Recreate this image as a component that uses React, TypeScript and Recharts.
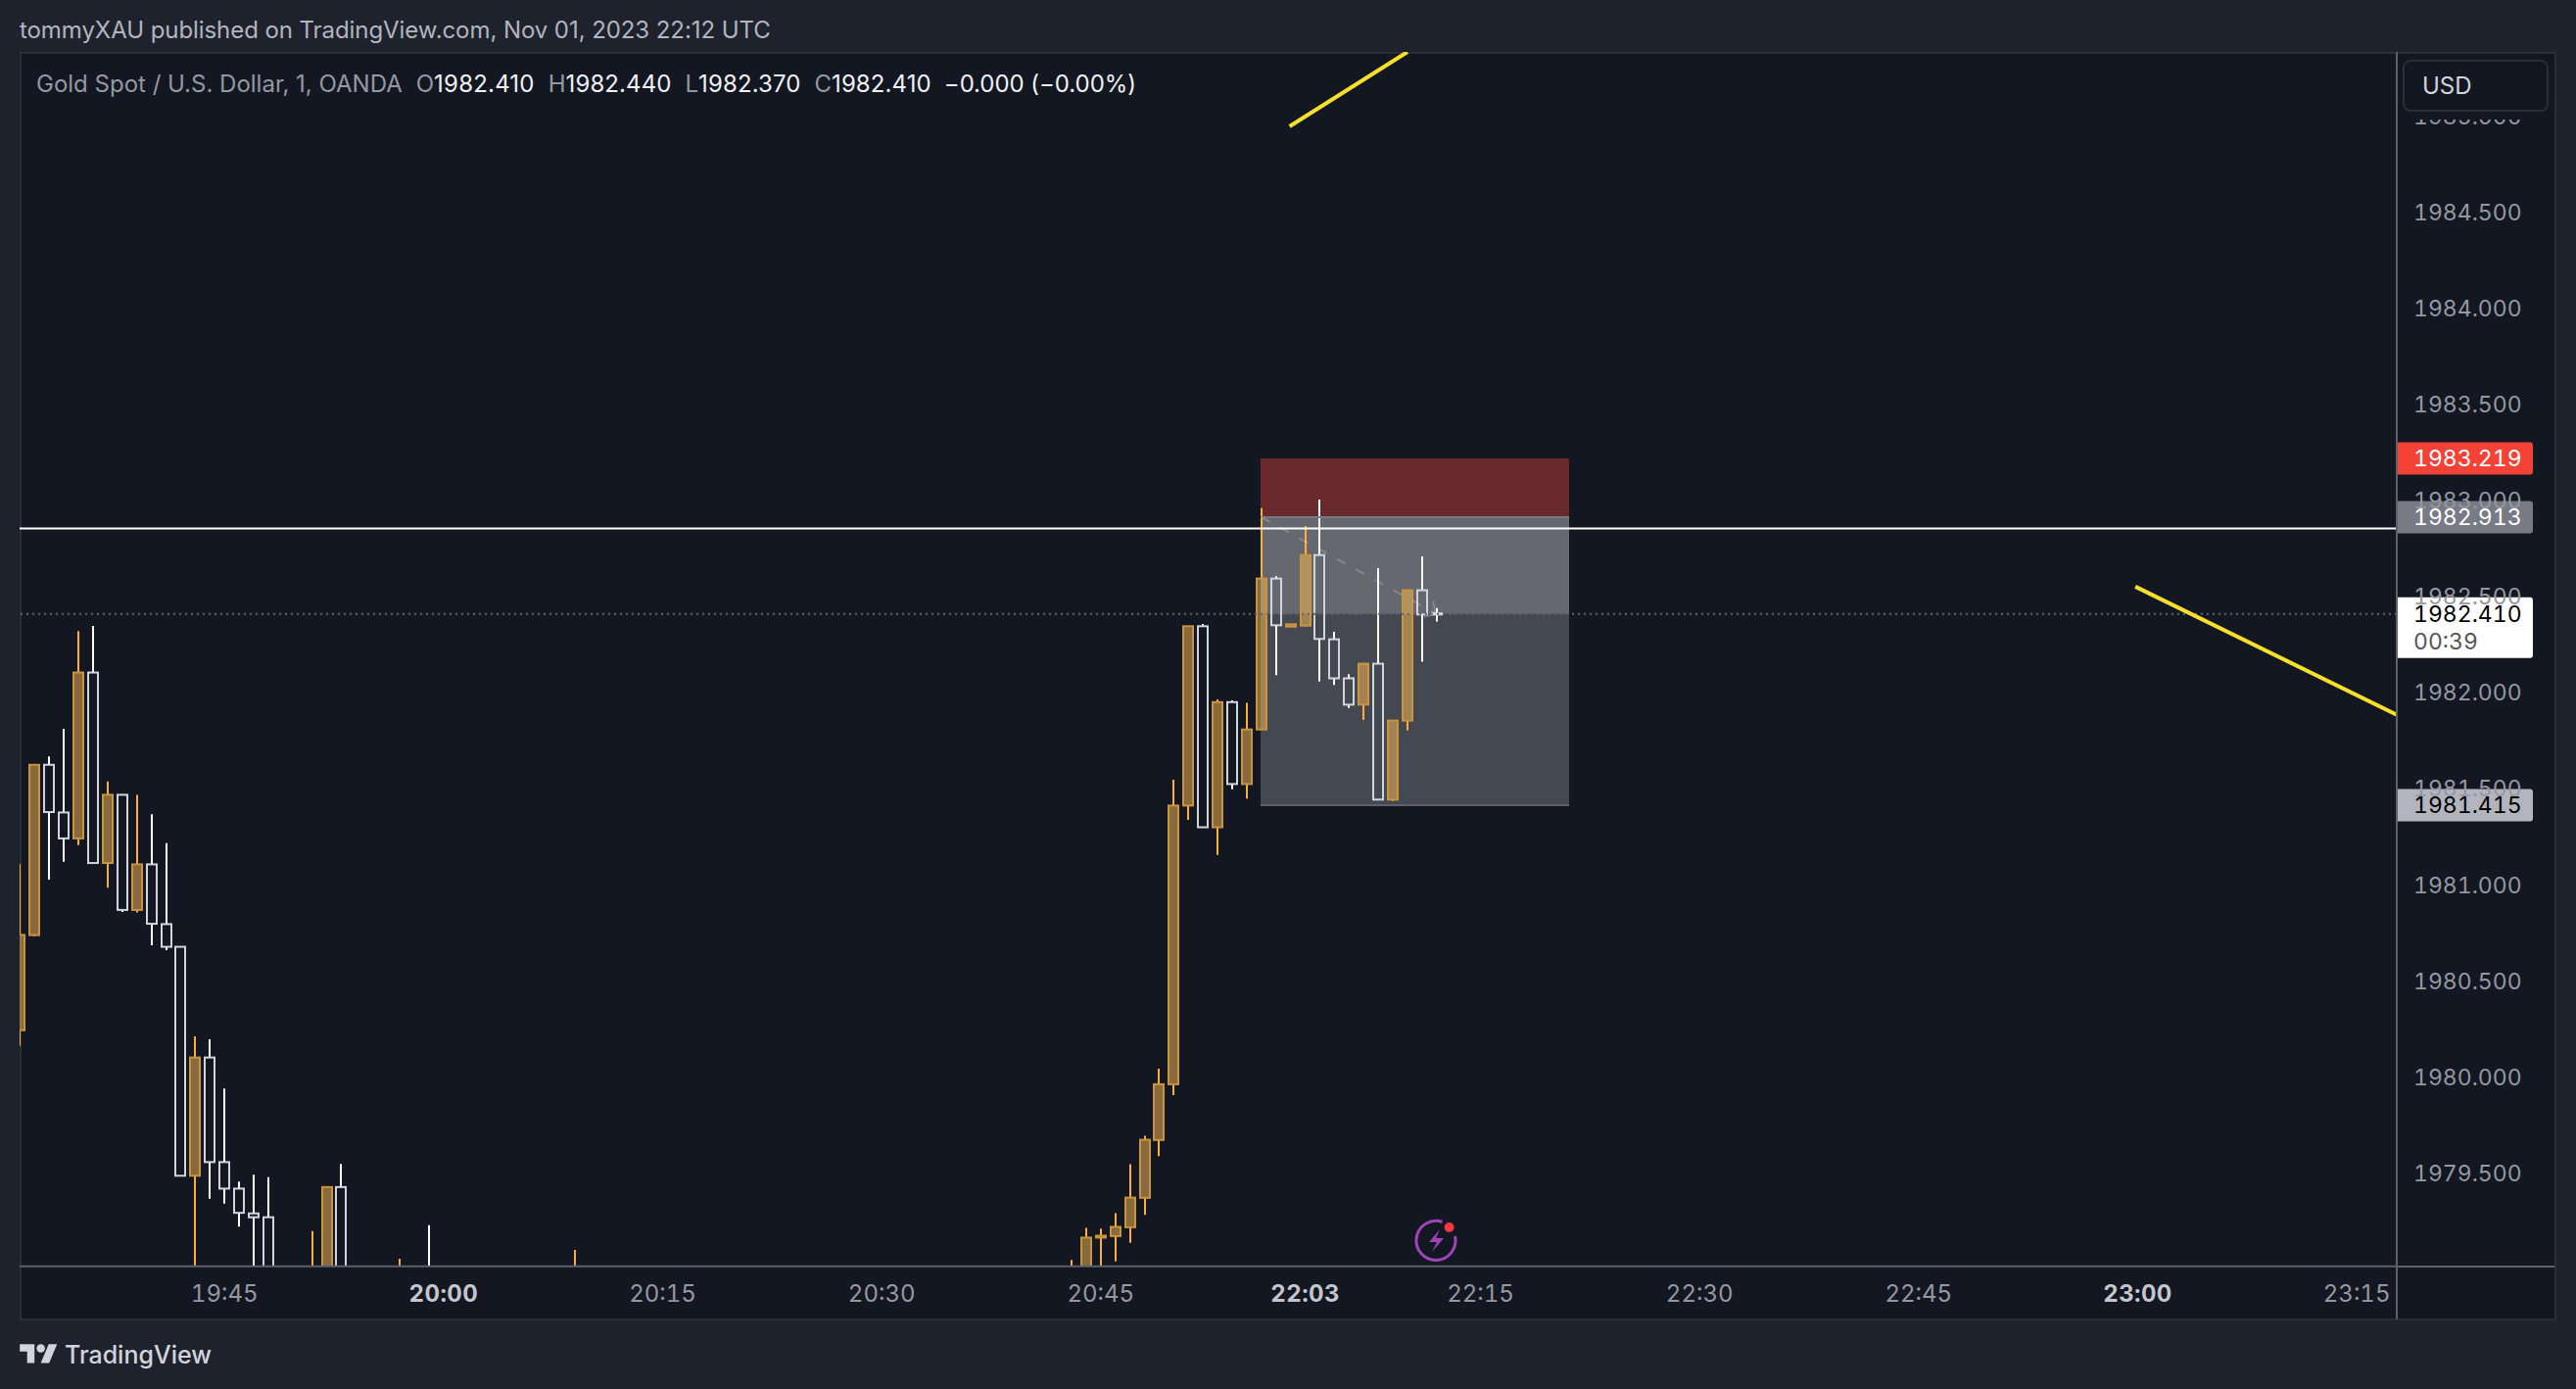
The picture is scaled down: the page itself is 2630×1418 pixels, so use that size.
import React from "react";
import {
  ComposedChart,
  Bar,
  Line,
  XAxis,
  YAxis,
  ReferenceArea,
  ReferenceLine,
} from "recharts";

// bar number counted from the left edge of the chart (1 minute bars)
const barIndex = [
  0, 1, 2, 3, 4, 5, 6, 7, 8, 9, 10, 11, 12, 13, 14, 15, 16, 17, 20, 21, 22, 26, 28, 38,
  72, 73, 74, 75, 76, 77, 78, 79, 80, 81, 82, 83, 84, 85, 86, 87, 88, 89, 90, 91, 92, 93, 94, 95, 96, 97,
];
const bodyTop = [
  1980.74, 1981.625, 1981.625, 1981.377, 1982.105, 1982.105, 1981.469, 1981.469, 1981.107, 1981.107, 1980.796, 1980.678,
  1980.102, 1980.102, 1979.558, 1979.42, 1979.291, 1979.271, 1978.988, 1979.428, 1979.428, 1978.988, 1978.988, 1978.988,
  1978.988, 1979.165, 1979.175, 1979.221, 1979.373, 1979.674, 1979.963, 1981.413, 1982.346, 1982.346, 1981.951, 1981.951,
  1981.809, 1982.594, 1982.594, 1982.356, 1982.716, 1982.716, 1982.278, 1982.075, 1982.151, 1982.151, 1981.855, 1982.533,
  1982.533, 1982.413,
];
const bodyBottom = [
  1980.244, 1980.739, 1981.379, 1981.242, 1981.242, 1981.114, 1981.114, 1980.87, 1980.87, 1980.798, 1980.678, 1979.487,
  1979.487, 1979.558, 1979.42, 1979.294, 1979.271, 1978.9, 1978.9, 1978.8, 1978.8, 1978.9, 1978.9, 1978.9,
  1978.9, 1978.9, 1979.165, 1979.173, 1979.219, 1979.372, 1979.673, 1979.963, 1981.413, 1981.3, 1981.3, 1981.525,
  1981.525, 1981.809, 1982.351, 1982.344, 1982.349, 1982.28, 1982.075, 1981.938, 1981.938, 1981.444, 1981.444, 1981.855,
  1982.407, 1982.407,
];
const highs = [
  1981.109, 1981.625, 1981.669, 1981.813, 1982.321, 1982.347, 1981.538, 1981.469, 1981.469, 1981.368, 1981.217, 1980.678,
  1980.212, 1980.197, 1979.941, 1979.456, 1979.492, 1979.479, 1979.199, 1979.428, 1979.548, 1979.055, 1979.23, 1979.101,
  1979.049, 1979.216, 1979.212, 1979.292, 1979.547, 1979.695, 1980.044, 1981.547, 1982.346, 1982.358, 1981.965, 1981.96,
  1981.948, 1982.96, 1982.606, 1982.356, 1982.867, 1983.005, 1982.317, 1982.097, 1982.151, 1982.648, 1981.855, 1982.533,
  1982.709, 1982.44,
];
const lows = [
  1980.164, 1980.732, 1981.027, 1981.12, 1981.207, 1981.109, 1980.985, 1980.86, 1980.857, 1980.686, 1980.66, 1979.487,
  1978.9, 1979.368, 1979.342, 1979.222, 1978.95, 1978.85, 1978.8, 1978.8, 1978.8, 1978.8, 1978.8, 1978.8,
  1978.8, 1978.8, 1978.9, 1979.041, 1979.138, 1979.283, 1979.589, 1979.906, 1981.339, 1981.3, 1981.156, 1981.498,
  1981.449, 1981.806, 1982.092, 1982.344, 1982.346, 1982.058, 1982.041, 1981.921, 1981.858, 1981.442, 1981.437, 1981.804,
  1982.161, 1982.37,
];
// "o" = orange candle, "w" = hollow white candle
const candleTone = [
  "o", "o", "w", "w", "o", "w", "o", "w", "o", "w", "w", "w",
  "o", "w", "w", "w", "w", "w", "o", "o", "w", "o", "w", "o",
  "o", "o", "o", "o", "o", "o", "o", "o", "o", "w", "o", "w",
  "o", "o", "w", "o", "o", "w", "w", "w", "o", "w", "o", "o",
  "w", "w",
];

const candles = barIndex.map((idx, i) => ({
  idx,
  range: [lows[i], highs[i]],
  top: bodyTop[i],
  bottom: bodyBottom[i],
  high: highs[i],
  low: lows[i],
  tone: candleTone[i],
}));

const timeTicks = [14, 29, 44, 59, 74, 88, 100, 115, 130, 145, 160];
const timeLabels = ["19:45", "20:00", "20:15", "20:30", "20:45", "22:03", "22:15", "22:30", "22:45", "23:00", "23:15"];
const boldTimes = ["20:00", "22:03", "23:00"];
const priceTicks = [1985, 1984.5, 1984, 1983.5, 1983, 1982.5, 1982, 1981.5, 1981, 1980.5, 1980, 1979.5];

const trendUp = [
  { idx: 86.93, price: 1984.947 },
  { idx: 95, price: 1985.334 },
];
const trendDown = [
  { idx: 144.84, price: 1982.552 },
  { idx: 162.74, price: 1981.885 },
];
const pathDash = [
  { idx: 85, price: 1982.913 },
  { idx: 97, price: 1982.41 },
];
const arrowHeadA = [
  { idx: 96.75, price: 1982.479 },
  { idx: 96.9, price: 1982.42 },
];
const arrowHeadB = [
  { idx: 96.12, price: 1982.393 },
  { idx: 96.95, price: 1982.41 },
];

const FONT = "Inter, sans-serif";
const BG = "#131722";

function CandleShape(props: any) {
  const { x, y, width, height, payload } = props;
  const perUnit = height / (payload.high - payload.low);
  const cx = Math.round(x + width / 2);
  const bt = y + (payload.high - payload.top) * perUnit;
  const bb = y + (payload.high - payload.bottom) * perUnit;
  const orange = payload.tone === "o";
  const wick = orange ? "#ffad33" : "#ffffff";
  return (
    <g>
      {/* wick stops at the body, white candles are hollow */}
      <line x1={cx} x2={cx} y1={y} y2={bt} stroke={wick} strokeWidth={2} />
      <line x1={cx} x2={cx} y1={bb} y2={y + height} stroke={wick} strokeWidth={2} />
      <rect
        x={cx - 5}
        y={bt}
        width={10}
        height={Math.max(bb - bt, 1)}
        fill={orange ? "rgba(255,189,82,0.5)" : "none"}
        stroke={orange ? "#c9933f" : "#d1d4dc"}
        strokeWidth={2}
      />
    </g>
  );
}

function priceTag(text: string, bg: string, color: string, sub?: string) {
  return (p: any) => {
    const right = p.viewBox.x + p.viewBox.width;
    const cy = p.viewBox.y;
    const h = sub ? 62 : 33;
    const top = sub ? cy - 17 : cy - 16.5;
    return (
      <g>
        <path d={`M${right} ${top}h136a3 3 0 0 1 3 3v${h - 6}a3 3 0 0 1 -3 3h-136z`} fill={bg} />
        <text x={right + 17} y={cy + 8} fontSize={23} fontFamily={FONT} fill={color}>
          {text}
        </text>
        {sub ? (
          <text x={right + 17} y={cy + 36} fontSize={23} fontFamily={FONT} fill="#555">
            {sub}
          </text>
        ) : null}
      </g>
    );
  };
}

function TimeTick(props: any) {
  const { x, y, payload } = props;
  const label = timeLabels[timeTicks.indexOf(payload.value)];
  const bold = boldTimes.includes(label);
  return (
    <text
      x={x}
      y={y}
      textAnchor="middle"
      fontSize={24}
      fontFamily={FONT}
      letterSpacing={bold ? 0.4 : 0}
      fontWeight={bold ? 700 : 400}
      fill={bold ? "#c4c6ce" : "#9598a1"}
    >
      {label}
    </text>
  );
}

const abs = (left: number, top: number, extra: any = {}) => ({
  position: "absolute" as const,
  left,
  top,
  whiteSpace: "nowrap" as const,
  ...extra,
});

const ohlcKeys = ["O", "H", "L", "C"];
const ohlcValues = ["1982.410", "1982.440", "1982.370", "1982.410"];

export default function App() {
  return (
    <div
      style={{
        position: "absolute",
        left: 0,
        top: 0,
        width: 2630,
        height: 1418,
        overflow: "hidden",
        background: "#1e222d",
        fontFamily: FONT,
      }}
    >
      {/* chart frame */}
      <div
        style={abs(20, 53, {
          width: 2590,
          height: 1295,
          boxSizing: "border-box",
          background: BG,
          border: "2px solid #2a2e39",
        })}
      />

      <ComposedChart
        width={2630}
        height={1418}
        data={candles}
        margin={{ top: 53, right: 20, bottom: 70.3, left: 20 }}
        style={{ position: "absolute", left: 0, top: 0, fontVariantNumeric: "tabular-nums" }}
      >
        <XAxis
          dataKey="idx"
          type="number"
          domain={[-0.03, 162.74]}
          allowDataOverflow
          ticks={timeTicks}
          interval={0}
          tick={<TimeTick />}
          tickLine={false}
          tickSize={0}
          tickMargin={36}
          height={55}
          axisLine={{ stroke: "#5d606b", strokeWidth: 2 }}
        />
        <YAxis
          orientation="right"
          type="number"
          domain={[1979.016, 1985.334]}
          allowDataOverflow
          ticks={priceTicks}
          interval={0}
          width={163}
          tickLine={false}
          tickSize={0}
          tickMargin={17}
          tickFormatter={(v: number) => v.toFixed(3)}
          tick={{ fontSize: 23, fontFamily: FONT, fill: "#9598a1", textAnchor: "start" }}
          axisLine={{ stroke: "#5d606b", strokeWidth: 2 }}
        />

        <ReferenceLine y={1982.854} stroke="#ffffff" strokeWidth={2} />
        <ReferenceLine y={1982.41} stroke="#5f6370" strokeWidth={2} strokeDasharray="2 4" />

        <ReferenceArea x1={84.94} x2={106.07} y1={1982.913} y2={1983.219} fill="#682a2c" fillOpacity={1} stroke="none" />
        <ReferenceArea x1={84.94} x2={106.07} y1={1982.41} y2={1982.913} fill="#ffffff" fillOpacity={0.35} stroke="none" />
        <ReferenceArea x1={84.94} x2={106.07} y1={1981.415} y2={1982.41} fill="#ffffff" fillOpacity={0.21} stroke="none" />
        <ReferenceLine
          segment={[{ x: 84.94, y: 1982.913 }, { x: 106.07, y: 1982.913 }]}
          stroke="#787b86"
          strokeWidth={2}
        />
        <ReferenceLine
          segment={[{ x: 84.94, y: 1981.415 }, { x: 106.07, y: 1981.415 }]}
          stroke="#5d606a"
          strokeWidth={2}
        />

        <Bar
          dataKey="range"
          barSize={12}
          shape={<CandleShape />}
          activeBar={false}
          isAnimationActive={false}
        />

        <Line data={trendUp} dataKey="price" stroke="#f7e02b" strokeWidth={4} dot={false} activeDot={false} isAnimationActive={false} />
        <Line data={trendDown} dataKey="price" stroke="#f7e02b" strokeWidth={4} dot={false} activeDot={false} isAnimationActive={false} />
        <Line data={pathDash} dataKey="price" stroke="rgba(255,255,255,0.2)" strokeWidth={2} strokeDasharray="10 12" dot={false} activeDot={false} isAnimationActive={false} />
        <Line data={arrowHeadA} dataKey="price" stroke="rgba(255,255,255,0.2)" strokeWidth={2} dot={false} activeDot={false} isAnimationActive={false} />
        <Line data={arrowHeadB} dataKey="price" stroke="rgba(255,255,255,0.2)" strokeWidth={2} dot={false} activeDot={false} isAnimationActive={false} />

        <ReferenceLine y={1983.219} stroke="none" label={priceTag("1983.219", "#f44336", "#ffffff")} />
        <ReferenceLine y={1982.913} stroke="none" label={priceTag("1982.913", "#787b86", "#ffffff")} />
        <ReferenceLine y={1982.41} stroke="none" label={priceTag("1982.410", "#ffffff", "#000000", "00:39")} />
        <ReferenceLine y={1981.415} stroke="none" label={priceTag("1981.415", "#b2b5be", "#000000")} />
      </ComposedChart>

      {/* axis lines that run past the plot */}
      <div style={abs(2447, 1291.7, { width: 161, height: 2, background: "#5d606b" })} />
      <div style={abs(2446, 1292, { width: 2, height: 55, background: "#5d606b" })} />

      {/* currency button covers the top price label */}
      <div style={abs(2449, 55, { width: 159, height: 67, background: BG })} />
      <div
        style={abs(2453, 61, {
          width: 149,
          height: 53,
          boxSizing: "border-box",
          border: "2px solid #2a2e39",
          borderRadius: 8,
          color: "#d1d4dc",
          fontSize: 24,
          lineHeight: "49px",
          paddingLeft: 18,
        })}
      >
        USD
      </div>

      {/* header */}
      <div style={abs(20, 16, { color: "#b2b5be", fontSize: 24, lineHeight: "30px", letterSpacing: -0.07 })}>
        tommyXAU published on TradingView.com, Nov 01, 2023 22:12 UTC
      </div>
      <div style={abs(37, 71, { color: "#9598a1", fontSize: 24, lineHeight: "30px" })}>
        Gold Spot / U.S. Dollar, 1, OANDA
        {ohlcKeys.map((k, i) => (
          <span key={k} style={{ marginLeft: 14 }}>
            {k}
            <span style={{ color: "#f0f1f4", letterSpacing: i === 0 ? 0.2 : 0.1 }}>{ohlcValues[i]}</span>
          </span>
        ))}
        <span style={{ color: "#f0f1f4", marginLeft: 13, letterSpacing: -0.05 }}>−0.000 (−0.00%)</span>
      </div>

      {/* marker under the last bar */}
      <svg style={abs(1440, 1240)} width={52} height={52} viewBox="0 0 52 52">
        <path d="M32.5 7.5A20 20 0 1 0 45.5 22" fill="none" stroke="#a044b8" strokeWidth={3} />
        <path d="M30 15L19 28h8l-5 10 12-14h-8z" fill="#a044b8" />
        <circle cx={39.6} cy={13} r={5} fill="#f23645" />
      </svg>

      {/* footer logo */}
      <svg style={abs(20, 1368)} width={39} height={30} viewBox="0 0 36 28">
        <path d="M14 22H7V11H0V4h14v18zM28 22h-8l7.5-18h8L28 22z" fill="#d1d4dc" />
        <circle cx={20} cy={8} r={4} fill="#d1d4dc" />
      </svg>
      <div style={abs(66, 1367, { color: "#d1d4dc", fontSize: 25, lineHeight: "32px", fontWeight: 500 })}>TradingView</div>
    </div>
  );
}
